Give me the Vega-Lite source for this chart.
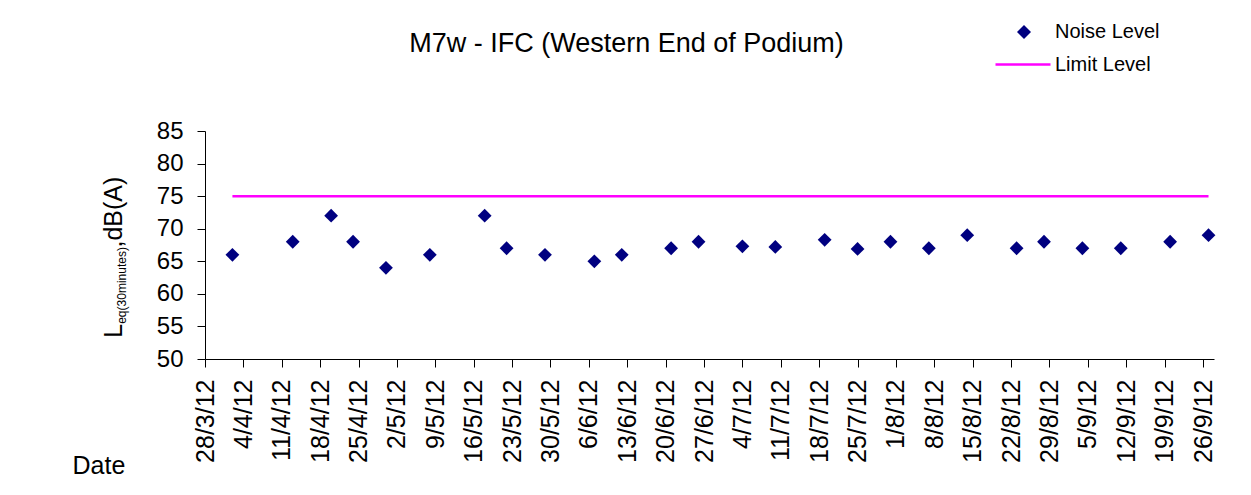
{
  "$schema": "https://vega.github.io/schema/vega-lite/v6.json",
  "width": 1009,
  "height": 228,
  "autosize": {"type": "none"},
  "padding": {"left": 205, "top": 131, "right": 37, "bottom": 136},
  "background": "white",
  "config": {
    "view": {"stroke": null},
    "font": "Liberation Sans",
    "axis": {"grid": false, "domainColor": "#000000", "tickColor": "#000000", "labelColor": "#000000", "titleColor": "#000000", "titleFontWeight": "normal", "labelFont": "Liberation Sans", "titleFont": "Liberation Sans"},
    "legend": {"labelFont": "Liberation Sans", "labelColor": "#000000", "labelFontSize": 20, "padding": 0, "orient": "none"}
  },
  "title": {
    "text": "M7w - IFC (Western End of Podium)",
    "fontSize": 27,
    "fontWeight": "normal",
    "font": "Liberation Sans",
    "color": "#000000",
    "anchor": "middle",
    "frame": "group",
    "baseline": "alphabetic",
    "offset": -57,
    "dx": -83
  },
  "data": {
    "values": [
      {"date": "2012/04/02", "noise": 66, "limit": 75},
      {"date": "2012/04/13", "noise": 68, "limit": 75},
      {"date": "2012/04/20", "noise": 72, "limit": 75},
      {"date": "2012/04/24", "noise": 68, "limit": 75},
      {"date": "2012/04/30", "noise": 64, "limit": 75},
      {"date": "2012/05/08", "noise": 66, "limit": 75},
      {"date": "2012/05/18", "noise": 72, "limit": 75},
      {"date": "2012/05/22", "noise": 67, "limit": 75},
      {"date": "2012/05/29", "noise": 66, "limit": 75},
      {"date": "2012/06/07", "noise": 65, "limit": 75},
      {"date": "2012/06/12", "noise": 66, "limit": 75},
      {"date": "2012/06/21", "noise": 67, "limit": 75},
      {"date": "2012/06/26", "noise": 68, "limit": 75},
      {"date": "2012/07/04", "noise": 67.3, "limit": 75},
      {"date": "2012/07/10", "noise": 67.2, "limit": 75},
      {"date": "2012/07/19", "noise": 68.3, "limit": 75},
      {"date": "2012/07/25", "noise": 66.9, "limit": 75},
      {"date": "2012/07/31", "noise": 68, "limit": 75},
      {"date": "2012/08/07", "noise": 67, "limit": 75},
      {"date": "2012/08/14", "noise": 69, "limit": 75},
      {"date": "2012/08/23", "noise": 67, "limit": 75},
      {"date": "2012/08/28", "noise": 68, "limit": 75},
      {"date": "2012/09/04", "noise": 67, "limit": 75},
      {"date": "2012/09/11", "noise": 67, "limit": 75},
      {"date": "2012/09/20", "noise": 68, "limit": 75},
      {"date": "2012/09/27", "noise": 69, "limit": 75}
    ]
  },
  "encoding": {
    "x": {
      "field": "date",
      "type": "temporal",
      "scale": {"domain": [{"year": 2012, "month": 3, "date": 28}, {"year": 2012, "month": 9, "date": 28}], "nice": false},
      "axis": {
        "values": [
          {"year": 2012, "month": 3, "date": 28}, {"year": 2012, "month": 4, "date": 4}, {"year": 2012, "month": 4, "date": 11},
          {"year": 2012, "month": 4, "date": 18}, {"year": 2012, "month": 4, "date": 25}, {"year": 2012, "month": 5, "date": 2},
          {"year": 2012, "month": 5, "date": 9}, {"year": 2012, "month": 5, "date": 16}, {"year": 2012, "month": 5, "date": 23},
          {"year": 2012, "month": 5, "date": 30}, {"year": 2012, "month": 6, "date": 6}, {"year": 2012, "month": 6, "date": 13},
          {"year": 2012, "month": 6, "date": 20}, {"year": 2012, "month": 6, "date": 27}, {"year": 2012, "month": 7, "date": 4},
          {"year": 2012, "month": 7, "date": 11}, {"year": 2012, "month": 7, "date": 18}, {"year": 2012, "month": 7, "date": 25},
          {"year": 2012, "month": 8, "date": 1}, {"year": 2012, "month": 8, "date": 8}, {"year": 2012, "month": 8, "date": 15},
          {"year": 2012, "month": 8, "date": 22}, {"year": 2012, "month": 8, "date": 29}, {"year": 2012, "month": 9, "date": 5},
          {"year": 2012, "month": 9, "date": 12}, {"year": 2012, "month": 9, "date": 19}, {"year": 2012, "month": 9, "date": 26}
        ],
        "format": "%-d/%-m/%y",
        "labelAngle": 270,
        "labelAlign": "right",
        "labelBaseline": "middle",
        "labelFontSize": 25,
        "labelPadding": 12,
        "labelOverlap": false,
        "labelFlush": false,
        "tickSize": 8,
        "title": "Date",
        "titleFontSize": 25,
        "titleX": -106.6,
        "titleY": 114,
        "titleAlign": "center",
        "titleBaseline": "alphabetic",
        "titleAngle": 0
      }
    }
  },
  "layer": [
    {
      "mark": {"type": "point", "shape": "diamond", "filled": true, "size": 190, "opacity": 1},
      "encoding": {
        "y": {
          "field": "noise",
          "type": "quantitative",
          "scale": {"domain": [50, 85], "nice": false, "zero": false},
          "axis": {
            "orient": "left",
            "values": [50, 55, 60, 65, 70, 75, 80, 85],
            "labelFontSize": 24,
            "labelPadding": 14,
            "tickSize": 8,
            "title": "L\u00a0\u00a0\u00a0\u00a0\u00a0\u00a0\u00a0\u00a0\u00a0\u00a0\u00a0,dB(A)",
            "titleFontSize": 25,
            "titleAngle": 270,
            "titleAlign": "left",
            "titleBaseline": "alphabetic",
            "titleX": -83.5,
            "titleY": 206.3
          }
        },
        "color": {
          "datum": "Noise Level",
          "scale": {"domain": ["Noise Level"], "range": ["#000080"]},
          "legend": {
            "title": null,
            "legendX": 809,
            "legendY": -109,
            "symbolSize": 196,
            "labelOffset": 21
          }
        }
      }
    },
    {
      "mark": {"type": "line", "strokeWidth": 2.5},
      "encoding": {
        "y": {
          "field": "limit",
          "type": "quantitative",
          "scale": {"domain": [50, 85], "nice": false, "zero": false},
          "axis": {
            "orient": "left",
            "domain": false,
            "ticks": false,
            "labels": false,
            "grid": false,
            "title": "eq(30minutes)",
            "titleFontSize": 12,
            "titleAngle": 270,
            "titleAlign": "left",
            "titleBaseline": "alphabetic",
            "titleX": -79.5,
            "titleY": 192.3
          }
        },
        "stroke": {
          "datum": "Limit Level",
          "scale": {"domain": ["Limit Level"], "range": ["#FF00FF"]},
          "legend": {
            "title": null,
            "legendX": 789,
            "legendY": -95.5,
            "symbolType": "stroke",
            "symbolSize": 3025,
            "symbolStrokeWidth": 2.5,
            "labelOffset": 3
          }
        }
      }
    }
  ],
  "resolve": {"axis": {"y": "independent"}}
}
